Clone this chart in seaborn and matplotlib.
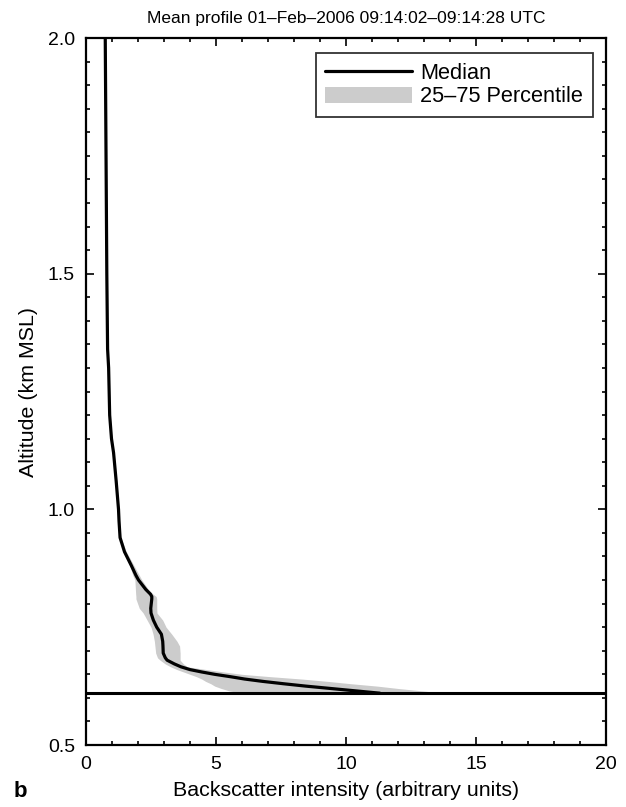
import numpy as np
import pandas as pd
import matplotlib
matplotlib.use("Agg")
import matplotlib.pyplot as plt
import seaborn as sns
from matplotlib.lines import Line2D
from matplotlib.patches import Patch
from matplotlib.ticker import MultipleLocator, FormatStrFormatter

# ---- data ----
altitude = [2.00, 1.75, 1.50, 1.34, 1.30, 1.20, 1.15, 1.12, 1.06, 1.00, 0.975, 0.94,
            0.91, 0.88, 0.86, 0.85, 0.83, 0.82, 0.815, 0.81, 0.79, 0.78, 0.765, 0.75,
            0.735, 0.72, 0.71, 0.695, 0.685, 0.68, 0.672, 0.666, 0.66, 0.655, 0.65,
            0.645, 0.64, 0.635, 0.63, 0.625, 0.62, 0.615, 0.61]
median = [0.74, 0.77, 0.80, 0.83, 0.87, 0.91, 0.98, 1.06, 1.16, 1.25, 1.27, 1.31,
          1.48, 1.75, 1.92, 2.02, 2.30, 2.48, 2.53, 2.53, 2.49, 2.50, 2.59, 2.72,
          2.90, 2.95, 2.96, 2.97, 3.05, 3.12, 3.40, 3.65, 4.00, 4.45, 4.95,
          5.55, 6.10, 6.80, 7.60, 8.45, 9.40, 10.35, 11.3]
p25 = [0.72, 0.75, 0.78, 0.81, 0.85, 0.89, 0.96, 1.04, 1.14, 1.23, 1.25, 1.29,
       1.45, 1.69, 1.80, 1.88, 1.90, 1.91, 1.92, 1.92, 2.05, 2.20, 2.35, 2.50,
       2.58, 2.63, 2.65, 2.68, 2.75, 2.85, 3.05, 3.25, 3.50, 3.75, 4.00,
       4.25, 4.45, 4.60, 4.80, 4.95, 5.20, 5.50, 6.0]
p75 = [0.76, 0.79, 0.82, 0.85, 0.89, 0.93, 1.00, 1.08, 1.18, 1.27, 1.29, 1.34,
       1.55, 1.85, 2.05, 2.15, 2.40, 2.58, 2.70, 2.72, 2.72, 2.73, 2.95, 3.08,
       3.30, 3.50, 3.60, 3.62, 3.62, 3.62, 3.75, 3.90, 4.65, 5.30, 6.00,
       7.10, 8.30, 9.30, 10.2, 11.2, 12.0, 12.9, 13.8]
ground_altitude = 0.61

title = "Mean profile 01\u2013Feb\u20132006 09:14:02\u201309:14:28 UTC"
xlabel = "Backscatter intensity (arbitrary units)"
ylabel = "Altitude (km MSL)"
legend_labels = ["Median", "25\u201375 Percentile"]

df = pd.DataFrame({"altitude": altitude, "median": median, "p25": p25, "p75": p75})

# ---- style ----
sns.set_theme(style="white")
plt.rcParams["font.family"] = ["Liberation Sans", "DejaVu Sans"]
plt.rcParams["text.color"] = "black"
plt.rcParams["axes.labelcolor"] = "black"
plt.rcParams["xtick.color"] = "black"
plt.rcParams["ytick.color"] = "black"

fig = plt.figure(figsize=(6.26, 8.07), dpi=100)
ax = fig.add_axes([0.1374, 0.0768, 0.8306, 0.8761])

ax.fill_betweenx(df["altitude"], df["p25"], df["p75"], color="#cccccc", lw=0, zorder=1)
sns.lineplot(data=df, x="median", y="altitude", sort=False, estimator=None,
             orient="y", color="black", lw=2.3, ax=ax, zorder=3)
ax.axhline(ground_altitude, color="black", lw=2.2, zorder=4)

ax.set_xlim(0, 20)
ax.set_ylim(0.5, 2.0)
ax.xaxis.set_major_locator(MultipleLocator(5))
ax.xaxis.set_minor_locator(MultipleLocator(1))
ax.yaxis.set_major_locator(MultipleLocator(0.5))
ax.yaxis.set_minor_locator(MultipleLocator(0.05))
ax.yaxis.set_major_formatter(FormatStrFormatter("%.1f"))
ax.tick_params(which="both", direction="in", top=True, right=True, bottom=True, left=True,
               colors="black", labelsize=14, width=1.2)
ax.tick_params(which="major", length=6)
ax.tick_params(axis="x", which="major", pad=8)
ax.tick_params(axis="y", which="major", pad=8)
ax.tick_params(which="minor", length=3)
for s in ax.spines.values():
    s.set_color("black")
    s.set_linewidth(1.6)

ax.set_xlabel(xlabel, fontsize=15.4, labelpad=6, color="black")
ax.set_ylabel(ylabel, fontsize=15.4, labelpad=7, color="black")
ax.set_title(title, fontsize=12.5, pad=11, color="black")

handles = [Line2D([], [], color="black", lw=2.3),
           Patch(facecolor="#cccccc", edgecolor="none")]
leg = ax.legend(handles, legend_labels, loc="upper right", fontsize=15.7,
                frameon=True, fancybox=False, handlelength=3.95, handleheight=0.75,
                borderpad=0.45, labelspacing=0.12, handletextpad=0.4,
                bbox_to_anchor=(0.975, 0.979), borderaxespad=0)
leg.get_frame().set_edgecolor("black")
leg.get_frame().set_linewidth(1.3)
for t in leg.get_texts():
    t.set_color("black")

fig.text(0.022, 0.012, "b", fontsize=16, fontweight="bold", color="black")

fig.savefig("out.png", dpi=100)
